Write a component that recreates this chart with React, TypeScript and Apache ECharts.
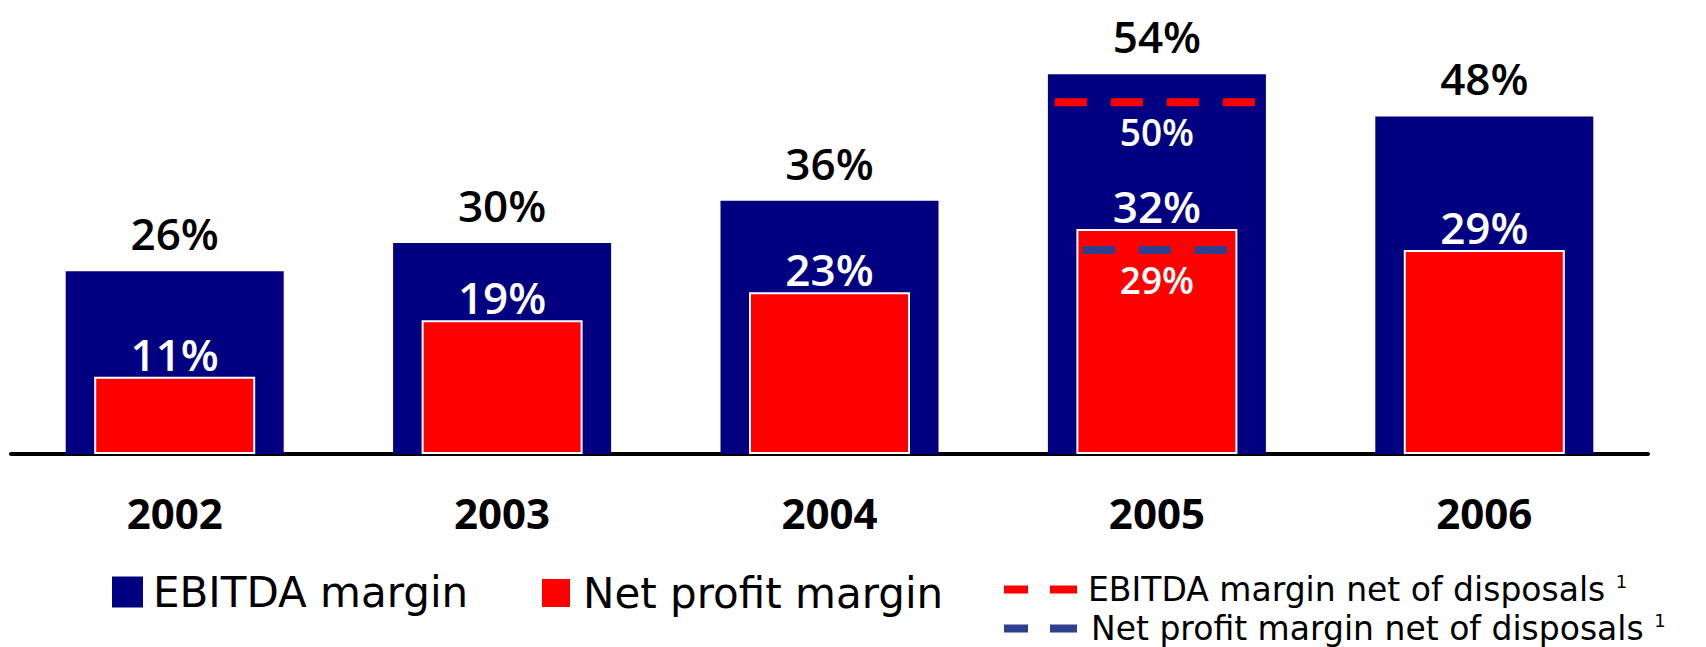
import React, { useEffect, useRef } from "react";
import * as echarts from "echarts";

const years = ["2002", "2003", "2004", "2005", "2006"];
const ebitdaMargin = [26, 30, 36, 54, 48];
const netProfitMargin = [11, 19, 23, 32, 29];
const ebitdaNetOfDisposals = [null, null, null, 50, null];
const netProfitNetOfDisposals = [null, null, null, 29, null];

const NAVY = "#000080";
const RED = "#FF0000";
const DASH_BLUE = "#2F3F8F";
const VALUE_FONT = '"Open Sans", "Liberation Sans", sans-serif';
const LEGEND_FONT = '"DejaVu Sans", "Open Sans", sans-serif';

function toPoints(arr: (number | null)[]) {
  return arr
    .map((v, i) => (v == null ? null : [i, v]))
    .filter((d) => d != null) as number[][];
}

function makeDashRender(color: string, widthRatio: number, shift: number) {
  return (params: any, api: any) => {
    const v = api.value(1);
    const c = api.coord([api.value(0), v]);
    const band = api.size([1, 0])[0];
    const hw = (band * widthRatio) / 2;
    return {
      type: "group",
      children: [
        {
          type: "line",
          shape: { x1: c[0] - hw + shift, y1: c[1], x2: c[0] + hw + shift, y2: c[1] },
          style: { stroke: color, lineWidth: 8, lineDash: [32, 24], lineCap: "butt" },
        },
        {
          type: "text",
          x: c[0],
          y: c[1] + 29,
          style: {
            text: v + "%",
            fill: "#FFFFFF",
            fontSize: 37,
            fontWeight: 600,
            fontFamily: VALUE_FONT,
            align: "center",
            verticalAlign: "middle",
          },
        },
      ],
    };
  };
}

export default function App() {
  const ref = useRef<HTMLDivElement>(null);

  useEffect(() => {
    document.body.style.margin = "0";
    if (!ref.current) return;
    const chart = echarts.init(ref.current, null, { renderer: "svg" });

    const supRich = {
      sup: { fontSize: 18, fontFamily: LEGEND_FONT, color: "#000", verticalAlign: "top", padding: [0, 0, 12, 0] },
    };

    chart.setOption({
      animation: false,
      backgroundColor: "#FFFFFF",
      grid: { left: 11, right: 58, top: 32, bottom: 193, containLabel: false },
      xAxis: [
        {
          type: "category",
          data: years,
          axisLine: { lineStyle: { color: "#000000", width: 4 } },
          axisTick: { show: false },
          axisLabel: {
            margin: 37,
            fontSize: 42,
            lineHeight: 42,
            fontWeight: "bold",
            fontFamily: VALUE_FONT,
            color: "#000000",
          },
        },
        { type: "category", data: years, show: false },
      ],
      yAxis: { type: "value", min: 0, max: 60, show: false, splitLine: { show: false } },
      legend: [
        {
          data: [{ name: "EBITDA margin", icon: "rect" }],
          left: 107,
          top: 565,
          itemWidth: 31,
          itemHeight: 31,
          selectedMode: false,
          textStyle: { fontSize: 42, lineHeight: 44, fontFamily: LEGEND_FONT, color: "#000", padding: [0, 0, 0, 5] },
        },
        {
          data: [{ name: "Net profit margin", icon: "rect" }],
          left: 535,
          top: 566,
          itemWidth: 30,
          itemHeight: 30,
          selectedMode: false,
          textStyle: { fontSize: 42, lineHeight: 44, fontFamily: LEGEND_FONT, color: "#000", padding: [0, 0, 0, 7] },
        },
        {
          data: [{ name: "EBITDA margin net of disposals", icon: "path://M0 0H24V8H0Z M46 0H73V8H46Z" }],
          left: 999,
          top: 567,
          itemWidth: 73,
          itemHeight: 8,
          selectedMode: false,
          formatter: (n: string) => n + " {sup|1}",
          textStyle: { fontSize: 33, lineHeight: 35, fontFamily: LEGEND_FONT, color: "#000", padding: [0, 0, 0, 6], rich: supRich },
        },
        {
          data: [{ name: "Net profit margin net of disposals", icon: "path://M0 0H24V8H0Z M46 0H73V8H46Z" }],
          left: 999,
          top: 606,
          itemWidth: 73,
          itemHeight: 8,
          selectedMode: false,
          formatter: (n: string) => n + " {sup|1}",
          textStyle: { fontSize: 33, lineHeight: 35, fontFamily: LEGEND_FONT, color: "#000", padding: [0, 0, 0, 9], rich: supRich },
        },
      ],
      series: [
        {
          name: "EBITDA margin",
          type: "bar",
          xAxisIndex: 0,
          data: ebitdaMargin,
          barWidth: 218,
          itemStyle: { color: NAVY },
          z: 2,
          label: {
            show: true,
            position: "top",
            distance: 16,
            formatter: "{c}%",
            fontSize: 44,
            lineHeight: 44,
            fontWeight: 600,
            fontFamily: VALUE_FONT,
            color: "#000000",
          },
        },
        {
          name: "Net profit margin",
          type: "bar",
          xAxisIndex: 1,
          data: netProfitMargin,
          barWidth: 161,
          itemStyle: { color: RED, borderColor: "#FFFFFF", borderWidth: 2 },
          z: 3,
          label: {
            show: true,
            position: "top",
            distance: 1,
            formatter: "{c}%",
            fontSize: 44,
            lineHeight: 44,
            fontWeight: 600,
            fontFamily: VALUE_FONT,
            color: "#FFFFFF",
          },
        },
        {
          name: "EBITDA margin net of disposals",
          type: "custom",
          xAxisIndex: 0,
          z: 5,
          itemStyle: { color: RED },
          encode: { x: 0, y: 1 },
          data: toPoints(ebitdaNetOfDisposals),
          renderItem: makeDashRender(RED, 200 / 327.4, -2),
        },
        {
          name: "Net profit margin net of disposals",
          type: "custom",
          xAxisIndex: 0,
          z: 5,
          itemStyle: { color: DASH_BLUE },
          encode: { x: 0, y: 1 },
          data: toPoints(netProfitNetOfDisposals),
          renderItem: makeDashRender(DASH_BLUE, 144 / 327.4, -2),
        },
      ],
    });

    return () => chart.dispose();
  }, []);

  return <div ref={ref} style={{ width: 1706, height: 647 }} />;
}
